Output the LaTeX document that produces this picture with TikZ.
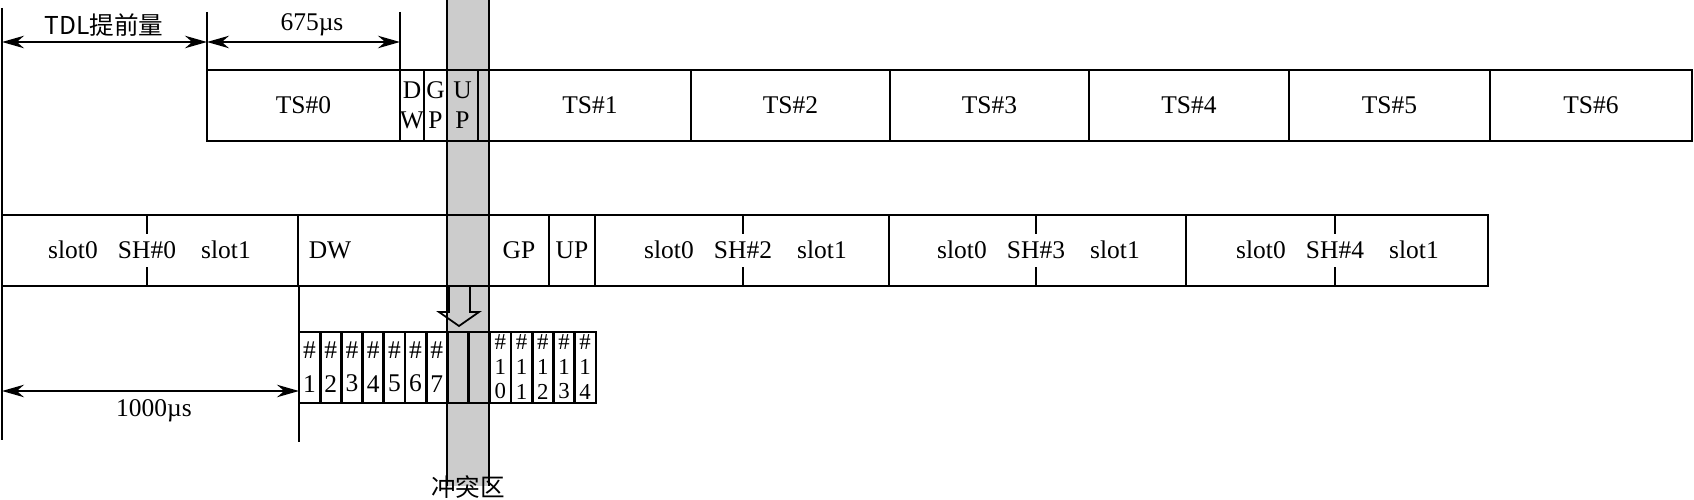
\documentclass[tikz,border=0pt]{standalone}
\usepackage{fontspec}
\setmainfont{Liberation Serif}
\newfontfamily\cjk{Noto Sans CJK SC}
\usetikzlibrary{arrows.meta}

\begin{document}
\begin{tikzpicture}[x=0.02cm, y=-0.02cm,
    box/.style={line width=1.5pt},
    thinline/.style={line width=1pt},
    dim/.style={line width=1pt, {Stealth[length=4.4mm,width=2.5mm]}-{Stealth[length=4.4mm,width=2.5mm]}},
    lbl/.style={font=\fontsize{14.5}{17}\selectfont, inner sep=0pt},
    cjklbl/.style={font=\cjk\fontsize{14}{16}\selectfont, inner sep=0pt}]
  \useasboundingbox (0,0) rectangle (1694,500);

  % Collision zone (grey band)
  \fill[gray!40] (447,0) rectangle (489,486);
  \draw[box] (447,0) -- (447,486) (489,0) -- (489,486);
  \node[cjklbl] (zone) at (468,487) {冲突区};

  % Reference lines and dimensions
  \draw[thinline] (2,8) -- (2,440);
  \draw[thinline] (207,12) -- (207,70) (400,12) -- (400,70);
  \draw[thinline] (299,286) -- (299,442);
  \coordinate (tdlL) at (2,42);
  \coordinate (tdlR) at (207,42);
  \coordinate (tsR) at (400,42);
  \coordinate (msL) at (2,391);
  \coordinate (msR) at (299,391);
  \draw[dim] (tdlL) -- (tdlR);
  \draw[dim] (tdlR) -- (tsR);
  \draw[dim] (msL) -- (msR);
  \node[cjklbl] (tdl) at (104,25) {TDL提前量};
  \node[lbl] (us675) at (312,25) {675µs};
  \node[lbl] (us1000) at (154,411) {1000µs};

  % Upper row: time slots
  \draw[box] (207,70) rectangle node[lbl] (ts0) {TS\#0} (400,141);
  \draw[box] (400,70) rectangle node[lbl, align=center, font=\fontsize{14.5}{17}\selectfont] (dwts) {D\\W} (424,141);
  \draw[box] (424,70) rectangle node[lbl, align=center, font=\fontsize{14.5}{17}\selectfont] (gpts) {G\\P} (447,141);
  \draw[box] (447,70) rectangle node[lbl, align=center, font=\fontsize{14.5}{17}\selectfont] (upts) {U\\P} (478,141);
  \draw[box] (478,70) rectangle (489,141);
  \foreach \i/\a/\b in {1/489/691, 2/691/890, 3/890/1089, 4/1089/1289, 5/1289/1490, 6/1490/1692}
    \draw[box] (\a,70) rectangle node[lbl] (ts\i) {TS\#\i} (\b,141);

  % Middle row: subframes
  \foreach \i/\a/\t/\b in {0/2/147/298, 2/595/743/889, 3/889/1036/1186, 4/1186/1335/1488} {
    \draw[box] (\a,215) rectangle (\b,286);
    \draw[thinline] (\t,215) -- (\t,234) (\t,267) -- (\t,286);
    \node[lbl] (sh\i) at (\t,250) {SH\#\i};
    \node[lbl] (sa\i) at (\t-74,250) {slot0};
    \node[lbl] (sb\i) at (\t+79,250) {slot1};
  }
  \draw[box] (298,215) rectangle (447,286);
  \node[lbl] (dwsf) at (330,250) {DW};
  \draw[box] (447,215) rectangle (489,286);
  \draw[box] (489,215) rectangle node[lbl] (gpsf) {GP} (549,286);
  \draw[box] (549,215) rectangle node[lbl] (upsf) {UP} (595,286);

  % Hollow arrow down
  \draw[thinline, line join=miter] (449,286) -- (449,312) -- (439,312) -- (459,326)
    -- (479,312) -- (470,312) -- (470,286);

  % Lower row: symbols
  \draw[box] (299,332) rectangle (596,403);
  \foreach \k in {1,...,13}
    \draw[box] (299+21.2*\k,332) -- (299+21.2*\k,403);
  \foreach \k in {1,...,7}
    \node[lbl, align=center, font=\fontsize{14.5}{19}\selectfont] (c\k) at (299+21.2*\k-10.6,367) {\#\\\k};
  \foreach \k [evaluate=\k as \d using int(\k-10)] in {10,...,14}
    \node[lbl, align=center, font=\fontsize{13}{14}\selectfont] (c\k) at (299+21.2*\k-10.6,367) {\#\\1\\\d};
\end{tikzpicture}
\end{document}
